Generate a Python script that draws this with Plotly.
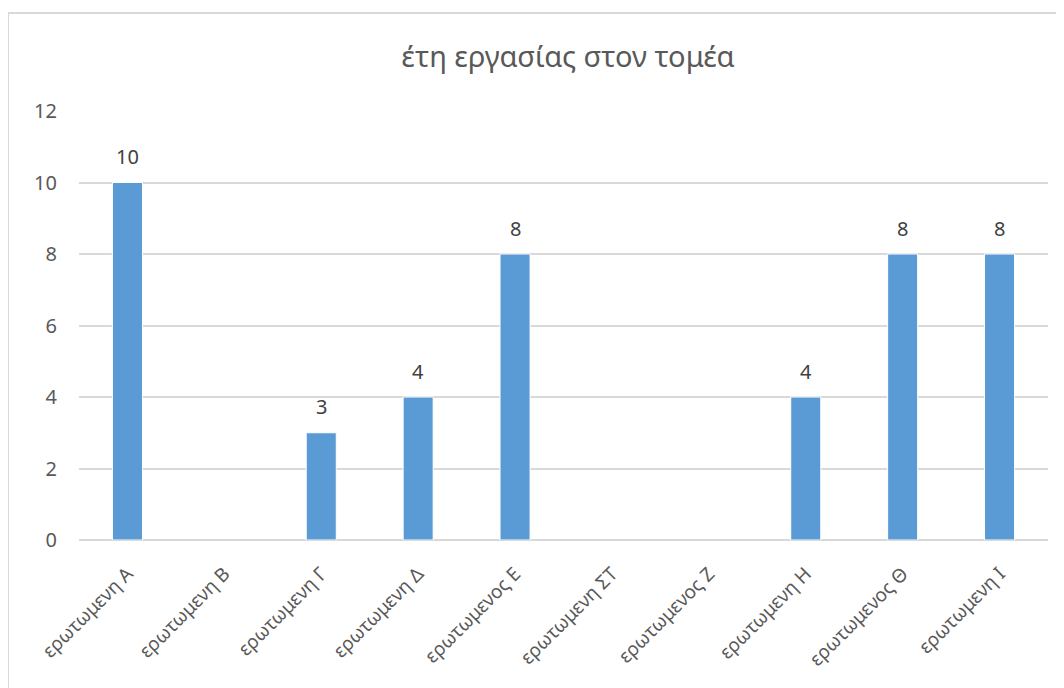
import plotly.graph_objects as go

categories = ["ερωτωμενη Α", "ερωτωμενη Β", "ερωτωμενη Γ", "ερωτωμενη Δ", "ερωτωμενος Ε",
              "ερωτωμενη ΣΤ", "ερωτωμενος Ζ", "ερωτωμενη Η", "ερωτωμενος Θ", "ερωτωμενη Ι"]
values = [10, None, 3, 4, 8, None, None, 4, 8, 8]
y_ticks = [0, 2, 4, 6, 8, 10, 12]
title_text = "έτη εργασίας στον τομέα"

FONT = "Noto Sans"
TXT = "#595959"

fig = go.Figure(go.Bar(
    x=categories, y=values,
    marker=dict(color="#5b9bd5", line=dict(color="#ffffff", width=1)),
))

# data labels drawn from the data arrays
for c, v in zip(categories, values):
    if v is None:
        continue
    fig.add_annotation(x=c, y=v, text=str(v), showarrow=False, xref="x", yref="y",
                       yanchor="middle", yshift=26,
                       font=dict(family=FONT, size=20, color="#404040"))

# page has an 8px body margin, so the figure is 8px smaller and shifted
OFF = 8
W, H = 1064 - OFF, 688 - OFF
L, R, T, B = 79 - OFF, 16, 111 - OFF, 148
pw, ph = W - L - R, H - T - B


def px_x(p):  # page pixel -> paper
    return (p - OFF - L) / pw


def px_y(p):
    return (H - B - (p - OFF)) / ph


fig.update_layout(
    width=W, height=H,
    margin=dict(l=L, r=R, t=T, b=B, autoexpand=False),
    paper_bgcolor="white", plot_bgcolor="white",
    bargap=0.69,
    showlegend=False,
    font=dict(family=FONT, color=TXT),
    title=dict(text=title_text, x=px_x(568), xref="paper",
               xanchor="center", y=1 - (57 - OFF) / H, yanchor="middle",
               font=dict(family=FONT, size=29, color=TXT)),
    xaxis=dict(tickangle=-45, tickfont=dict(family=FONT, size=19, color=TXT),
               showgrid=False, showline=False, ticks="", ticklabelstandoff=18),
    yaxis=dict(range=[0, 12], tickvals=y_ticks, tickfont=dict(family=FONT, size=20, color=TXT),
               showgrid=True, gridcolor="#d9d9d9", gridwidth=1.5,
               zeroline=True, zerolinecolor="#d9d9d9", zerolinewidth=1.5,
               showline=False, ticks="", ticklabelstandoff=21),
    shapes=[
        dict(type="line", xref="paper", yref="paper", x0=px_x(8), x1=px_x(1070),
             y0=px_y(13), y1=px_y(13), line=dict(color="#d9d9d9", width=2)),
        dict(type="line", xref="paper", yref="paper", x0=px_x(8), x1=px_x(8),
             y0=px_y(13), y1=px_y(700), line=dict(color="#d9d9d9", width=2)),
    ],
)

fig.write_html("out.html")
